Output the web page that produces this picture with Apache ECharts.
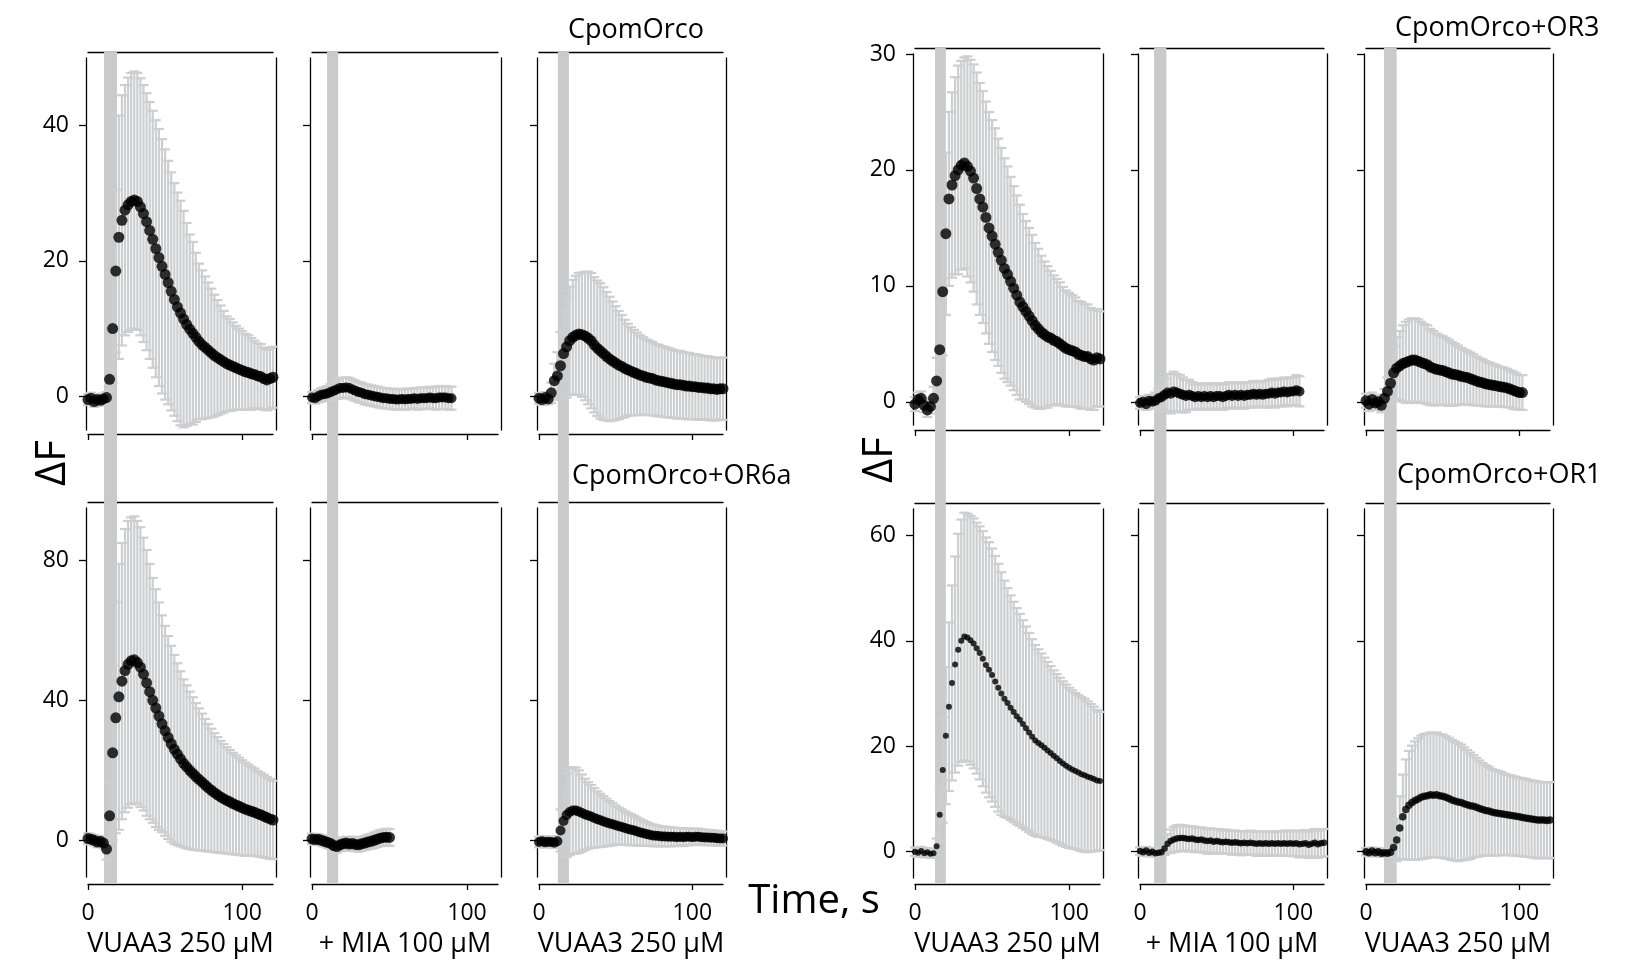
<!DOCTYPE html>
<html><head><meta charset="utf-8">
<script src="https://cdn.jsdelivr.net/npm/echarts@6/dist/echarts.min.js"></script>
<style>html,body{margin:0;padding:0;background:#fff}#c{width:1645px;height:960px}</style>
</head><body><div id="c"></div>
<script>
// ---------- DATA ----------
const TIME = [0,2,4,6,8,10,12,14,16,18,20,22,24,26,28,30,32,34,36,38,40,42,44,46,48,50,52,54,56,58,60,62,64,66,68,70,72,74,76,78,80,82,84,86,88,90,92,94,96,98,100,102,104,106,108,110,112,114,116,118,120];

// Top row, left group (CpomOrco)
const P1_MEAN = [-0.5,-0.3,-0.8,-0.5,-0.6,-0.4,-0.2,2.5,10,18.5, 23.5,26,27.5,28.3,28.8,29,28.8,28,27,25.8, 24.5,23.2,21.8,20.5,19.2,18,16.8,15.5,14.3,13.2, 12.3,11.4,10.6,9.9,9.3,8.7,8.1,7.6,7.2,6.8, 6.4,6,5.7,5.4,5.1,4.8,4.6,4.4,4.2,4, 3.8,3.6,3.5,3.3,3.2,3,2.9,2.6,2.4,2.6, 2.8];
const P1_ERR = [0.8,0.8,0.8,0.8,0.8,0.8,0.8,1.5,8,12, 18,18.5,18.5,18.8,19,19,19,19,19,19, 19,19,19,19,18.8,18.5,18,17.6,17.2,16.9, 16.6,16,15,14,13.5,12.5,11.5,11,10.5,10, 9.5,9,8.5,8,7.5,7,6.8,6.5,6.2,6, 5.8,5.6,5.5,5.3,5,4.8,4.8,4.6,4.5,4.5, 4.5];
const P2_MEAN = [-0.2,-0.3,0.0,0.2,0.3,0.4,0.6,0.8,1.0,1.2, 1.2,1.3,1.2,1.0,0.8,0.6,0.5,0.3,0.2,0.1, 0.0,-0.1,-0.2,-0.3,-0.3,-0.4,-0.4,-0.5,-0.5,-0.4, -0.5,-0.4,-0.4,-0.3,-0.4,-0.3,-0.3,-0.3,-0.2,-0.3, -0.3,-0.2,-0.2,-0.2,-0.3,-0.3];
const P2_ERR = [0.8,0.8,0.9,1,1,1.1,1.2,1.3,1.4,1.5, 1.5,1.5,1.5,1.5,1.5,1.5,1.5,1.5,1.5,1.5, 1.5,1.5,1.5,1.5,1.5,1.5,1.5,1.5,1.5,1.5, 1.5,1.5,1.5,1.5,1.6,1.6,1.6,1.6,1.6,1.6, 1.7,1.7,1.7,1.7,1.7,1.7];
const P3_MEAN = [-0.3,-0.5,-0.2,-0.4,0.5,2.3,3.0,4.5,6.3,7.3, 8.2,8.7,9.0,9.2,9.1,8.9,8.6,8.2,7.6,7.1, 6.7,6.3,5.9,5.5,5.2,4.9,4.6,4.4,4.1,3.9, 3.7,3.5,3.3,3.1,3.0,2.8,2.7,2.6,2.4,2.3, 2.2,2.1,2.0,1.9,1.8,1.7,1.7,1.6,1.5,1.5, 1.4,1.4,1.3,1.3,1.2,1.2,1.1,1.1,1.0,1.1, 1.1];
const P3_ERR = [0.8,0.8,0.8,0.8,1.5,2.5,3.5,5,6.5,7.5, 8,8.5,8.8,9,9.2,9.5,9.8,10,10,10, 10,9.8,9.5,9.2,8.8,8.4,8,7.6,7.2,6.8, 6.5,6.3,6.1,5.9,5.7,5.6,5.5,5.4,5.3,5.3, 5.2,5.2,5.1,5.1,5,5,5,4.9,4.9,4.9, 4.8,4.8,4.8,4.7,4.7,4.7,4.7,4.6,4.6,4.6, 4.6];

// Top row, right group (CpomOrco+OR3)
const P4_MEAN = [-0.2,0.2,0.3,-0.3,-0.7,-0.4,0.3,1.8,4.5,9.5, 14.5,17.5,18.7,19.5,20,20.4,20.6,20.3,19.9,19.3, 18.4,17.5,16.8,15.9,15,14.3,13.6,12.9,12.2,11.5, 11,10.4,9.8,9.2,8.6,8.2,7.8,7.4,7,6.6, 6.3,6,5.8,5.6,5.5,5.3,5.2,5,4.8,4.6, 4.5,4.4,4.3,4.1,4,3.9,3.9,3.7,3.6,3.8, 3.7];
const P4_ERR = [0.6,0.6,0.6,0.6,0.6,0.6,1,2,4,5.5, 7,7.5,8,8.5,9,9,9.1,9.5,9.6,9.8, 10,10,10,10,10,10,10,9.8,9.7,9.5, 9.3,9,8.8,8.6,8.4,8,7.8,7.6,7.4,7.1, 6.9,6.6,6.3,6.1,5.8,5.6,5.4,5.3,5.1,5, 4.9,4.8,4.7,4.6,4.6,4.5,4.5,4.4,4.3,4.2, 4.1];
const P5_MEAN = [-0.1,0.0,-0.2,0.1,0.0,0.1,0.3,0.4,0.6,0.8, 0.7,0.9,0.8,0.7,0.6,0.5,0.6,0.5,0.4,0.5, 0.4,0.5,0.4,0.5,0.4,0.5,0.5,0.4,0.5,0.6, 0.5,0.6,0.5,0.6,0.5,0.6,0.6,0.7,0.6,0.7, 0.6,0.7,0.7,0.8,0.7,0.8,0.8,0.9,0.8,0.9, 0.9,1.0,0.9];
const P5_ERR = [0.5,0.5,0.5,0.5,0.6,0.7,0.8,1,1.4,1.6, 1.7,1.7,1.6,1.6,1.5,1.4,1.3,1.2,1.1,1.1, 1.1,1.1,1.1,1.1,1.1,1.1,1.1,1.1,1.1,1.1, 1.1,1.1,1.1,1.1,1.1,1.1,1.1,1.1,1.1,1.1, 1.1,1.1,1.2,1.2,1.2,1.2,1.2,1.2,1.2,1.2, 1.2,1.3,1.3];
const P6_MEAN = [0.1,-0.2,0.2,-0.1,0.0,-0.3,0.3,0.9,1.6,2.5, 2.9,3.1,3.3,3.4,3.5,3.6,3.6,3.5,3.4,3.3, 3.2,3.0,2.9,2.8,2.75,2.7,2.6,2.5,2.4,2.35, 2.3,2.2,2.15,2.1,2.0,1.9,1.8,1.7,1.65,1.55, 1.5,1.45,1.4,1.35,1.3,1.25,1.2,1.1,1.0,0.9, 0.8,0.8];
const P6_ERR = [0.6,0.6,0.6,0.6,0.6,0.6,0.8,1.2,1.8,2.3, 2.7,3.0,3.3,3.5,3.6,3.6,3.6,3.6,3.5,3.4, 3.4,3.3,3.2,3.1,3.0,2.95,2.9,2.85,2.75,2.65, 2.55,2.45,2.35,2.3,2.25,2.2,2.1,2.05,2.0,1.95, 1.9,1.85,1.8,1.75,1.7,1.7,1.65,1.6,1.6,1.55, 1.5,1.5];

// Bottom row, left group (CpomOrco+OR6a)
const P7_MEAN = [0.5,0.3,0.0,-0.5,-0.3,-0.8,-2.5,7,25,35, 41,45.5,48.5,50.3,51.3,51.6,50.8,49.5,47.5,45, 42.5,40,37.8,35.5,33.3,31.3,29.4,27.6,26,24.6, 23.3,22,21,20,19.1,18.2,17.4,16.6,15.8,15, 14.3,13.6,13,12.4,11.9,11.4,11,10.5,10.1,9.7, 9.3,8.9,8.6,8.3,8,7.6,7.3,6.9,6.5,6.1, 5.8];
const P7_ERR = [1.5,1.5,1.5,1.5,1.5,1.5,3,10,25,33, 38,39.5,40.5,41,41,41,40.5,40,39,38, 36.5,35,34,32.5,31,30,29,28,27,26, 25,24,23.3,22.5,21.8,21,20.3,19.6,18.9,18.2, 17.6,17,16.5,16,15.6,15.2,14.8,14.5,14.2,13.9, 13.6,13.3,13,12.7,12.5,12.2,12,11.8,11.6,11.4, 11.2];
const P8_MEAN = [0.4,0.2,0.3,0.0,-0.3,-0.6,-0.9,-1.5,-1.8,-1.3, -1.0,-0.8,-1.1,-0.9,-1.2,-1.3,-1.0,-0.8,-0.5,-0.3, 0.0,0.3,0.6,0.8,0.9,0.8];
const P8_ERR = [1.5,1.5,1.5,1.5,1.5,1.6,1.6,1.7,1.7,1.8, 1.8,1.8,1.9,1.9,1.9,2,2,2,2.1,2.1, 2.2,2.2,2.3,2.3,2.4,2.4];
const P9_MEAN = [-0.5,-0.3,-0.6,-0.4,-0.5,-0.7,-0.3,2.8,5.5,7.2, 8.1,8.5,8.5,8.2,7.8,7.4,7.1,6.8,6.4,6.0, 5.7,5.4,5.1,4.8,4.6,4.3,4.0,3.8,3.5,3.2, 3.0,2.8,2.5,2.2,2.0,1.8,1.6,1.4,1.3,1.2, 1.1,1.1,1.0,1.0,1.0,0.9,1.0,0.9,1.0,1.0, 0.9,1.0,1.0,0.9,0.8,0.8,0.7,0.7,0.6,0.5, 0.5];
const P9_ERR = [1.5,1.5,1.5,1.5,1.5,1.5,1.5,6,10,12, 12.4,12.4,12.3,11.8,11,10.2,9.5,9,8.5,8, 7.6,7.2,6.8,6.4,6,5.6,5.3,5,4.8,4.6, 4.4,4.2,4,3.8,3.6,3.4,3.2,3.1,3,2.9, 2.8,2.8,2.7,2.7,2.6,2.6,2.5,2.5,2.4,2.4, 2.3,2.3,2.3,2.2,2.2,2.2,2.1,2.1,2.1,2, 2];

// Bottom row, right group (CpomOrco+OR1)
const P10_MEAN = [0.0,-0.2,0.1,-0.3,-0.1,-0.4,-0.3,1,7,15.5, 22,27.5,32,35.5,38.3,40,40.8,40.6,40.1,39.5, 38.6,37.7,36.6,35.4,34.5,33.5,32.3,31.1,30,29, 28.2,27.3,26.5,25.7,25,24.2,23.4,22.6,21.8,21.1, 20.6,20.2,19.7,19.2,18.7,18.2,17.7,17.2,16.7,16.3, 15.9,15.6,15.3,15,14.7,14.5,14.2,14,13.8,13.5, 13.4];
const P10_ERR = [0.8,0.8,0.8,0.8,0.8,0.8,0.8,1.5,5,10, 13,16,18.5,20.5,22,23,23.5,23.5,23.6,23.7, 23.8,24,24.2,24.2,24.2,24,23.8,23.5,23,22.4, 21.8,21.3,20.9,20.5,20.1,19.7,19.3,18.9,18.5,18.1, 17.8,17.4,17.1,16.8,16.5,16.2,16,15.8,15.6,15.4, 15.2,15,14.8,14.7,14.6,14.5,14.3,14,13.7,13.4, 13.1];
const P11_MEAN = [0.1,-0.1,0.2,-0.2,0.0,-0.3,-0.2,-0.1,0.6,1.5, 2.0,2.3,2.5,2.6,2.6,2.5,2.4,2.5,2.3,2.2, 2.3,2.1,2.0,2.1,1.9,2.0,1.9,1.8,1.9,1.8, 1.7,1.8,1.7,1.6,1.7,1.6,1.7,1.6,1.5,1.6, 1.5,1.6,1.5,1.6,1.5,1.6,1.5,1.6,1.5,1.6, 1.5,1.6,1.4,1.5,1.6,1.3,1.5,1.7,1.4,1.6, 1.7];
const P11_ERR = [0.7,0.7,0.7,0.7,0.7,0.7,0.7,0.7,1.2,1.8, 2.2,2.4,2.5,2.5,2.4,2.4,2.4,2.3,2.4,2.3, 2.3,2.3,2.4,2.3,2.3,2.3,2.3,2.2,2.3,2.2, 2.3,2.2,2.2,2.3,2.2,2.2,2.3,2.2,2.3,2.2, 2.3,2.2,2.3,2.3,2.2,2.3,2.3,2.4,2.3,2.4, 2.4,2.4,2.5,2.4,2.5,2.5,2.5,2.6,2.6,2.6, 2.6];
const P12_MEAN = [0.0,-0.2,0.1,-0.2,0.0,-0.3,-0.2,-0.3,-0.1,0.8, 2.2,4.5,6.6,8.0,8.8,9.3,9.7,10.0,10.3,10.5, 10.6,10.8,10.7,10.8,10.6,10.5,10.3,10.1,9.8,9.6, 9.4,9.3,9.1,8.9,8.7,8.6,8.4,8.2,8.0,7.8, 7.7,7.5,7.4,7.3,7.2,7.1,7.0,6.9,6.8,6.7, 6.6,6.5,6.4,6.3,6.2,6.1,6.0,6.0,6.0,5.9, 6.0];
const P12_ERR = [0.7,0.7,0.7,0.7,0.7,0.7,0.7,0.7,0.7,2, 4,6,8,9.5,10.3,10.8,11.2,11.5,11.7,11.8, 11.8,11.8,11.8,11.8,11.7,11.7,11.6,11.5,11.4,11.3, 11.2,11,10.7,10.4,10.1,9.7,9.4,9.1,8.8,8.6, 8.4,8.2,8.1,8,7.9,7.7,7.6,7.6,7.5,7.5, 7.4,7.4,7.4,7.3,7.3,7.3,7.3,7.2,7.2,7.2, 7.2];

// stimulus window per column (s)
const STIM = [[10.4,18.8],[9.7,16.9],[12.3,19.5],[13,20],[9.2,17.2],[11.7,20]];
const X_TICKS = [0,100];
const Y_TICKS_TOP_L = [0,20,40];
const Y_TICKS_BOT_L = [0,40,80];
const Y_TICKS_TOP_R = [0,10,20,30];
const Y_TICKS_BOT_R = [0,20,40,60];
const TITLES = ['CpomOrco','CpomOrco+OR6a','CpomOrco+OR3','CpomOrco+OR1'];
const BOTTOM_LABELS = ['VUAA3 250 µM','+ MIA 100 µM','VUAA3 250 µM','VUAA3 250 µM','+ MIA 100 µM','VUAA3 250 µM'];
const Y_LABEL = 'ΔF';
const X_LABEL = 'Time, s';

// ---------- LAYOUT ----------
const FONT = 'Open Sans';
const COLS = [
  {left:88,width:185},{left:312,width:186},{left:539,width:184},
  {left:915,width:185},{left:1140,width:184},{left:1366,width:184}
];
const ROWS = {
  L:[{top:58,height:372,min:-5,max:50,ticks:Y_TICKS_TOP_L,xOff:4},
     {top:508,height:369,min:-10.5,max:95,ticks:Y_TICKS_BOT_L,xOff:7}],
  R:[{top:54,height:371,min:-2,max:30,ticks:Y_TICKS_TOP_R,xOff:5},
     {top:509,height:369,min:-5,max:65,ticks:Y_TICKS_BOT_R,xOff:6}]
};
const PANELS = [
  {r:0,c:0,mean:P1_MEAN,err:P1_ERR,sym:11},
  {r:0,c:1,mean:P2_MEAN,err:P2_ERR,sym:10},
  {r:0,c:2,mean:P3_MEAN,err:P3_ERR,sym:11},
  {r:0,c:3,mean:P4_MEAN,err:P4_ERR,sym:11},
  {r:0,c:4,mean:P5_MEAN,err:P5_ERR,sym:10},
  {r:0,c:5,mean:P6_MEAN,err:P6_ERR,sym:11},
  {r:1,c:0,mean:P7_MEAN,err:P7_ERR,sym:11},
  {r:1,c:1,mean:P8_MEAN,err:P8_ERR,sym:11},
  {r:1,c:2,mean:P9_MEAN,err:P9_ERR,sym:10},
  {r:1,c:3,mean:P10_MEAN,err:P10_ERR,sym:6},
  {r:1,c:4,mean:P11_MEAN,err:P11_ERR,sym:6.5},
  {r:1,c:5,mean:P12_MEAN,err:P12_ERR,sym:7.5}
];

const grid = [], xAxis = [], yAxis = [], series = [];
const lineStyle = {color:'#000', width:1.3};
const ERR_COLOR = '#cdcecf';
const STIM_COLOR = '#c9cacc';

// background grids for stimulus bands (span both rows)
COLS.forEach((col, c) => {
  const top = c < 3 ? 52 : 48;
  const gi = grid.length;
  grid.push({left:col.left, top:top, width:col.width, height:884 - top, containLabel:false, outerBoundsMode:'none'});
  xAxis.push({gridIndex:gi, type:'value', min:0, max:120, show:false});
  yAxis.push({gridIndex:gi, type:'value', min:0, max:1, show:false});
  series.push({
    type:'custom', xAxisIndex:xAxis.length-1, yAxisIndex:yAxis.length-1, z:1, silent:true,
    data:[[STIM[c][0], STIM[c][1]]],
    renderItem(params, api) {
      const p0 = api.coord([api.value(0), 1]);
      const p1 = api.coord([api.value(1), 0]);
      return {type:'rect', shape:{x:p0[0], y:p0[1], width:p1[0]-p0[0], height:p1[1]-p0[1]},
              style:{fill:STIM_COLOR}};
    }
  });
});

PANELS.forEach(p => {
  const col = COLS[p.c];
  const row = ROWS[p.c < 3 ? 'L' : 'R'][p.r];
  const gi = grid.length;
  grid.push({left:col.left, top:row.top, width:col.width, height:row.height, containLabel:false, outerBoundsMode:'none'});
  const showY = (p.c === 0 || p.c === 3);
  const bottom = p.r === 1;
  const xb = xAxis.length;
  xAxis.push({
    gridIndex:gi, type:'value', min:0, max:120, position:'bottom', offset:row.xOff,
    axisLine:{show:true, onZero:false, lineStyle},
    axisTick:{show:true, length:6, customValues:X_TICKS, lineStyle},
    axisLabel:{show:bottom, customValues:X_TICKS, fontSize:23, color:'#000', margin:18, fontFamily:FONT},
    splitLine:{show:false},
    name: bottom ? BOTTOM_LABELS[p.c] : '', nameLocation:'middle', nameGap:47,
    nameTextStyle:{fontSize:27, color:'#000', fontFamily:FONT}
  });
  xAxis.push({
    gridIndex:gi, type:'value', min:0, max:120, position:'top', offset:6,
    axisLine:{show:true, onZero:false, lineStyle}, axisTick:{show:false}, axisLabel:{show:false}, splitLine:{show:false}
  });
  const yl = yAxis.length;
  yAxis.push({
    gridIndex:gi, type:'value', min:row.min, max:row.max, position:'left', offset:2,
    axisLine:{show:true, onZero:false, lineStyle},
    axisTick:{show:true, length:7, customValues:row.ticks, lineStyle},
    axisLabel:{show:showY, customValues:row.ticks, fontSize:23, color:'#000', margin:17, fontFamily:FONT},
    splitLine:{show:false}
  });
  yAxis.push({
    gridIndex:gi, type:'value', min:row.min, max:row.max, position:'right', offset:3,
    axisLine:{show:true, onZero:false, lineStyle}, axisTick:{show:false}, axisLabel:{show:false}, splitLine:{show:false}
  });
  const data = p.mean.map((m, i) => [TIME[i], m, p.err[i]]);
  series.push({
    type:'custom', xAxisIndex:xb, yAxisIndex:yl, z:2, silent:true,
    dimensions:['t','mean','err'], encode:{x:0, y:1},
    data:data,
    renderItem(params, api) {
      const t = api.value(0), m = api.value(1), e = api.value(2);
      const a = api.coord([t, m + e]);
      const b = api.coord([t, m - e]);
      const hw = 5;
      const st = {stroke:ERR_COLOR, lineWidth:2.2};
      return {type:'group', children:[
        {type:'line', shape:{x1:a[0], y1:a[1], x2:b[0], y2:b[1]}, style:st},
        {type:'line', shape:{x1:a[0]-hw, y1:a[1], x2:a[0]+hw, y2:a[1]}, style:st},
        {type:'line', shape:{x1:b[0]-hw, y1:b[1], x2:b[0]+hw, y2:b[1]}, style:st}
      ]};
    }
  });
  series.push({
    type:'scatter', xAxisIndex:xb, yAxisIndex:yl, z:3, silent:true,
    symbol:'circle', symbolSize:p.sym,
    itemStyle:{color:'#000'},
    data:data.map(d => [d[0], d[1]])
  });
});

const graphic = [
  {type:'text', x:53, y:463, rotation:Math.PI/2, style:{text:Y_LABEL, fontSize:42, fontFamily:FONT, fill:'#000', align:'center', verticalAlign:'middle'}},
  {type:'text', x:880, y:460, rotation:Math.PI/2, style:{text:Y_LABEL, fontSize:42, fontFamily:FONT, fill:'#000', align:'center', verticalAlign:'middle'}},
  {type:'text', x:814, y:902, style:{text:X_LABEL, fontSize:40, fontFamily:FONT, fill:'#000', align:'center', verticalAlign:'middle'}},
  {type:'text', x:568, y:30, style:{text:TITLES[0], fontSize:27, fontFamily:FONT, fill:'#000', align:'left', verticalAlign:'middle'}},
  {type:'text', x:572, y:476, style:{text:TITLES[1], fontSize:27, fontFamily:FONT, fill:'#000', align:'left', verticalAlign:'middle'}},
  {type:'text', x:1395, y:28, style:{text:TITLES[2], fontSize:27, fontFamily:FONT, fill:'#000', align:'left', verticalAlign:'middle'}},
  {type:'text', x:1397, y:475, style:{text:TITLES[3], fontSize:27, fontFamily:FONT, fill:'#000', align:'left', verticalAlign:'middle'}}
];

const chart = echarts.init(document.getElementById('c'), null, {renderer:'canvas'});
chart.setOption({
  animation:false,
  backgroundColor:'#fff',
  textStyle:{fontFamily:FONT},
  grid, xAxis, yAxis, series, graphic
});
</script>
</body></html>
